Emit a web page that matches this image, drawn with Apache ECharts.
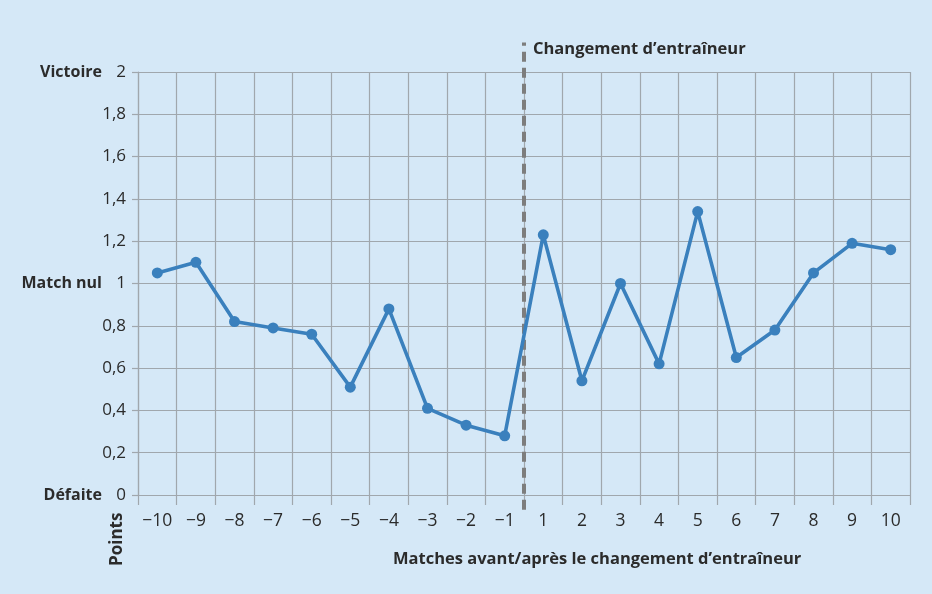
<!DOCTYPE html>
<html>
<head>
<meta charset="utf-8">
<script src="https://cdn.jsdelivr.net/npm/echarts@6/dist/echarts.min.js"></script>
<style>
html,body{margin:0;padding:0;background:#d5e8f7;}
#c{width:932px;height:594px;}
</style>
</head>
<body>
<div id="c"></div>
<script>
var categories = ['−10','−9','−8','−7','−6','−5','−4','−3','−2','−1','1','2','3','4','5','6','7','8','9','10'];
var points = [1.05,1.10,0.82,0.79,0.76,0.51,0.88,0.41,0.33,0.28,1.23,0.54,1.00,0.62,1.34,0.65,0.78,1.05,1.19,1.16];
var outcomeLabels = {0:'Défaite', 1:'Match nul', 2:'Victoire'};
var changeIndex = 10; // boundary between −1 and 1
var changeLabel = 'Changement d’entraîneur';
var xTitle = 'Matches avant/après le changement d’entraîneur';
var yTitle = 'Points';

var FONT = '"Open Sans", sans-serif';
var gridColor = '#a0a7ad';
var textColor = '#2b2b2b';

var chart = echarts.init(document.getElementById('c'));
chart.setOption({
  backgroundColor: '#d5e8f7',
  animation: false,
  grid: {left: 138, right: 22, top: 72, bottom: 99, containLabel: false},
  xAxis: [{
    type: 'category',
    data: categories,
    boundaryGap: true,
    axisLine: {show: true, lineStyle: {color: gridColor, width: 1.2}},
    axisTick: {show: true, interval: 0, length: 10, alignWithLabel: false, lineStyle: {color: gridColor, width: 1.2}},
    splitLine: {show: true, interval: 0, lineStyle: {color: gridColor, width: 1.2}},
    axisLabel: {interval: 0, hideOverlap: false, margin: 17, fontFamily: FONT, fontSize: 17.5, color: textColor}
  }, {
    type: 'value', min: 0, max: categories.length, show: false
  }],
  yAxis: [{
    type: 'value', min: 0, max: 2, interval: 0.2,
    axisLine: {show: true, lineStyle: {color: gridColor, width: 1.2}},
    axisTick: {show: true, length: 6, lineStyle: {color: gridColor, width: 1.2}},
    splitLine: {show: true, lineStyle: {color: gridColor, width: 1.2}},
    axisLabel: {
      margin: 12, fontFamily: FONT, fontSize: 17, color: textColor,
      formatter: function (v) { return String(Math.round(v * 10) / 10).replace('.', ','); }
    }
  }, {
    type: 'value', min: 0, max: 2, interval: 0.2, position: 'left',
    axisLine: {show: false}, axisTick: {show: false}, splitLine: {show: false},
    axisLabel: {
      margin: 36, fontFamily: FONT, fontSize: 16, fontWeight: 'bold', color: textColor,
      formatter: function (v) { var k = Math.round(v * 10) / 10; return outcomeLabels[k] || ''; }
    }
  }],
  series: [{
    type: 'line',
    data: points,
    symbol: 'circle',
    symbolSize: 11,
    lineStyle: {color: '#3a80bd', width: 3.6},
    itemStyle: {color: '#3a80bd'},
    z: 5
  }, {
    type: 'line',
    xAxisIndex: 1,
    yAxisIndex: 0,
    data: [[changeIndex, -0.07], [changeIndex, 2.14]],
    symbol: 'none',
    clip: false,
    lineStyle: {color: '#7d7d7d', width: 4, type: [10, 6]},
    z: 3
  }],
  graphic: [{
    type: 'text', left: 533, top: 41,
    style: {text: changeLabel, font: 'bold 16.5px ' + FONT, fill: textColor}
  }, {
    type: 'text', left: 393, top: 551,
    style: {text: xTitle, font: 'bold 16.5px ' + FONT, fill: textColor}
  }, {
    type: 'text', x: 109, y: 566, rotation: Math.PI / 2,
    style: {text: yTitle, font: 'bold 17px ' + FONT, fill: textColor}
  }]
});
</script>
</body>
</html>
